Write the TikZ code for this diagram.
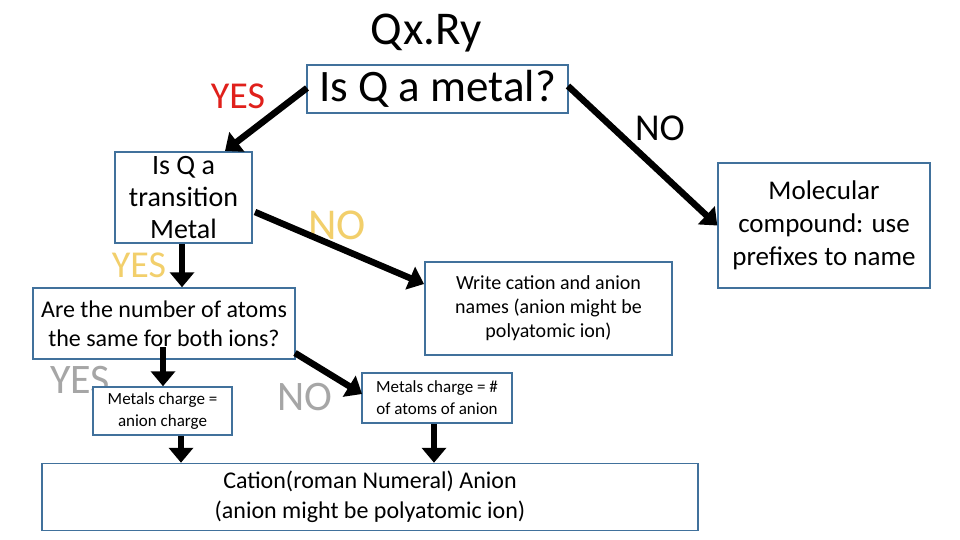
\documentclass[tikz,border=0pt]{standalone}
\usepackage{fontspec}
\setmainfont{Carlito}
\usetikzlibrary{arrows.meta}
\definecolor{bx}{HTML}{41719C}
\definecolor{yel}{HTML}{F2CF6B}
\definecolor{gr}{HTML}{A6A6A6}
\definecolor{rd}{HTML}{E0201B}
\begin{document}
\begin{tikzpicture}[x=1pt,y=-1pt,
 box/.style={draw=bx,line width=1.5pt,fill=white,inner sep=0pt,align=center},
 arr/.style={line width=6.5pt,-{Triangle[length=15pt,width=24pt]}},
 lab/.style={inner sep=0pt}]
\fill[white] (0,0) rectangle (960,540);
\node[lab,font=\fontsize{47}{50}\selectfont] (t) at (426,33) {Qx.Ry};
\node[box,minimum width=261,minimum height=48,font=\fontsize{45}{48}\selectfont] (m) at (437.5,89) {Is Q a metal?};
\node[lab,rd,font=\fontsize{38}{42}\selectfont] (y1) at (238,96) {YES};
\node[lab,font=\fontsize{38}{42}\selectfont] (n1) at (660,128) {NO};
\node[box,minimum width=137,minimum height=91,font=\fontsize{28}{32}\selectfont] (tr) at (183.5,197.5) {Is Q a\\transition\\Metal};
\node[box,minimum width=212,minimum height=125,font=\fontsize{27}{33}\selectfont] (mc) at (824,225.5) {Molecular\\compound: use\\prefixes to name};
\node[lab,yel,font=\fontsize{44}{48}\selectfont] (n2) at (337,225) {NO};
\node[lab,yel,font=\fontsize{38}{42}\selectfont] (y2) at (139,265) {YES};
\node[box,minimum width=247,minimum height=93,font=\fontsize{20}{24}\selectfont] (w) at (548.5,308.5) {Write cation and anion\\names (anion might be\\polyatomic ion)};
\node[box,minimum width=262,minimum height=71,font=\fontsize{24}{29}\selectfont] (a) at (164,323.5) {Are the number of atoms\\the same for both ions?};
\node[lab,gr,font=\fontsize{42}{46}\selectfont] (y3) at (80,380) {YES};
\node[lab,gr,font=\fontsize{42}{46}\selectfont] (n3) at (305,397) {NO};
\node[box,minimum width=139,minimum height=48,font=\fontsize{17}{22}\selectfont] (c1) at (162.5,411) {Metals charge =\\anion charge};
\node[box,minimum width=150,minimum height=50,font=\fontsize{17}{22}\selectfont] (c2) at (437,398) {Metals charge = \#\\of atoms of anion};
\node[box,minimum width=656,minimum height=67,font=\fontsize{24}{30}\selectfont] (b) at (370,497) {Cation(roman Numeral) Anion\\(anion might be polyatomic ion)};
\coordinate (p1) at (307,88);
\coordinate (p2) at (568,86);
\coordinate (p3) at (255,212);
\coordinate (p4) at (163,347);
\coordinate (p5) at (295,353);
\draw[arr] (p1) -- (225,151);
\draw[arr] (p2) -- (mc.west);
\draw[arr] (p3) -- (424,284);
\draw[arr] (tr.south -| 182,0) -- (a.north -| 182,0);
\draw[arr] (p4) -- (c1.north -| 163,0);
\draw[arr] (p5) -- (362,394);
\draw[arr] (c1.south -| 181,0) -- (b.north -| 181,0);
\draw[arr] (c2.south -| 434,0) -- (b.north -| 434,0);
\end{tikzpicture}
\end{document}
